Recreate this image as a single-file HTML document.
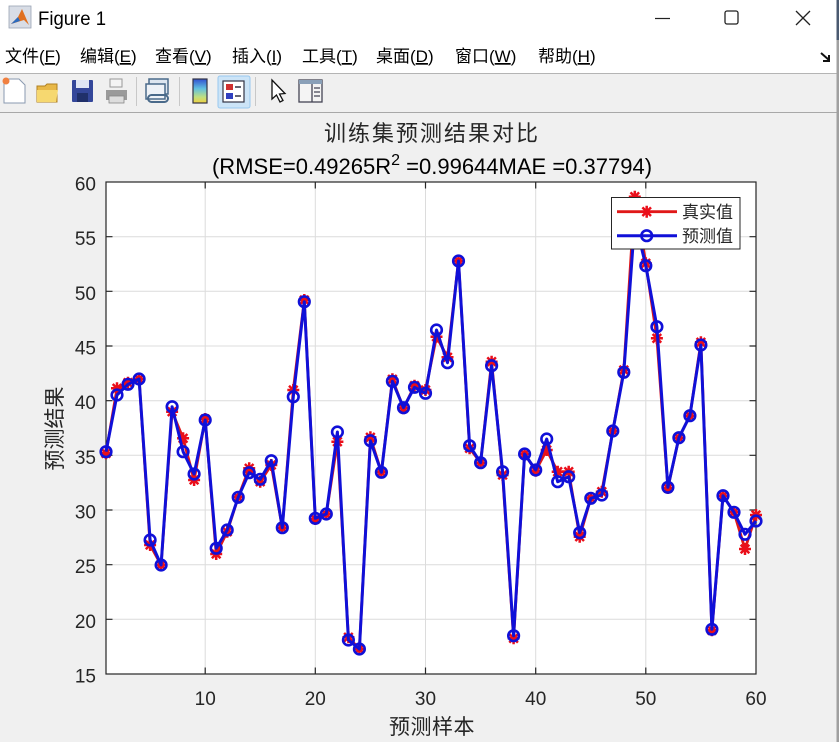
<!DOCTYPE html>
<html><head><meta charset="utf-8"><style>
html,body{margin:0;padding:0;background:#f0f0f0;}
svg{display:block;}
text{font-family:"Liberation Sans","Noto Sans CJK SC",sans-serif;}
.cjk{font-family:"Liberation Sans","Noto Sans CJK SC",sans-serif;}
</style></head><body>
<svg width="839" height="742" viewBox="0 0 839 742" xmlns="http://www.w3.org/2000/svg">
<defs>
  <g id="ast"><path d="M-6 0H6M0 -6V6M-4.3 -4.3L4.3 4.3M-4.3 4.3L4.3 -4.3" stroke="#ea0f1a" stroke-width="2.5" fill="none"/></g>
  <linearGradient id="cb" x1="0" y1="0" x2="0" y2="1">
    <stop offset="0" stop-color="#3050d0"/><stop offset="0.4" stop-color="#60c0e0"/><stop offset="0.75" stop-color="#c0e080"/><stop offset="1" stop-color="#f0d040"/>
  </linearGradient>
</defs>
<rect x="0" y="0" width="839" height="742" fill="#f0f0f0"/>
<rect x="0" y="0" width="839" height="73" fill="#ffffff"/>
<line x1="0" y1="73.5" x2="839" y2="73.5" stroke="#b4b4b4" stroke-width="1"/>
<line x1="0" y1="112.5" x2="839" y2="112.5" stroke="#a8a8a8" stroke-width="1"/>
<rect x="836.5" y="0" width="2.5" height="742" fill="#a0a0a0"/>
<rect x="836.5" y="0" width="2.5" height="40" fill="#4a5a70"/>

<g>
  <rect x="9" y="6" width="22" height="22" fill="#d8dde6" stroke="#9aa4b4" stroke-width="0.8"/>
  <path d="M11 24 L18 17 L22 9 L29 25 L24 20 Z" fill="#e07020"/>
  <path d="M11 24 L18 17 L20 21 Z" fill="#2a6bc0"/>
</g>
<text x="38" y="25" font-size="19" fill="#000" textLength="68" lengthAdjust="spacingAndGlyphs">Figure 1</text>
<line x1="655" y1="18.5" x2="670" y2="18.5" stroke="#222" stroke-width="1.2"/>
<rect x="725" y="11" width="13" height="13" rx="2" fill="none" stroke="#222" stroke-width="1.3"/>
<path d="M796 11 L810 25 M810 11 L796 25" stroke="#222" stroke-width="1.3"/>

<g font-size="17" fill="#000" class="cjk">
  <text x="5" y="62">文件(<tspan text-decoration="underline">F</tspan>)</text>
  <text x="80" y="62">编辑(<tspan text-decoration="underline">E</tspan>)</text>
  <text x="155" y="62">查看(<tspan text-decoration="underline">V</tspan>)</text>
  <text x="232" y="62">插入(<tspan text-decoration="underline">I</tspan>)</text>
  <text x="302" y="62">工具(<tspan text-decoration="underline">T</tspan>)</text>
  <text x="376" y="62">桌面(<tspan text-decoration="underline">D</tspan>)</text>
  <text x="455" y="62">窗口(<tspan text-decoration="underline">W</tspan>)</text>
  <text x="538" y="62">帮助(<tspan text-decoration="underline">H</tspan>)</text>
</g>
<path d="M821 53 L829 60 M829 55 V61 H823" stroke="#111" stroke-width="2" fill="none"/>

<g>
  <path d="M4 79 H19 L25 85 V103 H4 Z" fill="#fff" stroke="#8a9ab0" stroke-width="1"/>
  <circle cx="6" cy="81" r="3.5" fill="#f08040"/>
  <path d="M37 86 H45 L47 84 H57 V102 H37 Z" fill="#e8b848" stroke="#b08020" stroke-width="1"/>
  <path d="M37 90 H58 L56 102 H37 Z" fill="#f6d870"/>
  <rect x="72" y="80" width="21" height="22" fill="#34479a" rx="1"/>
  <rect x="76" y="80" width="13" height="8" fill="#dfe6f4"/>
  <rect x="77" y="93" width="11" height="9" fill="#20306a"/>
  <rect x="110" y="79" width="12" height="8" fill="#f4f4f4" stroke="#999" stroke-width="1"/>
  <path d="M106 90 H127 V100 H106 Z" fill="#9a9a9a"/>
  <rect x="109" y="96" width="15" height="7" fill="#ddd" stroke="#888" stroke-width="0.8"/>
  <line x1="136.5" y1="77" x2="136.5" y2="106" stroke="#c8c8c8"/>
  <rect x="149" y="79" width="19" height="15" fill="#dde6f0" stroke="#4a6a8a" stroke-width="1.5"/>
  <rect x="146" y="84" width="19" height="15" fill="#eef2f7" stroke="#4a6a8a" stroke-width="1.5"/>
  <rect x="148" y="95" width="20" height="7" rx="3.5" fill="none" stroke="#4a6a8a" stroke-width="2"/>
  <line x1="179.5" y1="77" x2="179.5" y2="106" stroke="#c8c8c8"/>
  <rect x="193" y="79" width="14" height="24" fill="url(#cb)" stroke="#334" stroke-width="1.2"/>
  <rect x="218" y="76" width="32" height="32" rx="2" fill="#cce4f7" stroke="#99c9ef" stroke-width="1"/>
  <rect x="223" y="81" width="21" height="21" fill="#fff" stroke="#334" stroke-width="1.2"/>
  <rect x="226" y="84" width="7" height="6" fill="#d03030"/>
  <rect x="226" y="93" width="7" height="6" fill="#3040c0"/>
  <line x1="235" y1="87" x2="241" y2="87" stroke="#334" stroke-width="1.5"/>
  <line x1="235" y1="96" x2="241" y2="96" stroke="#334" stroke-width="1.5"/>
  <line x1="255.5" y1="77" x2="255.5" y2="106" stroke="#c8c8c8"/>
  <path d="M272 80 L272 99 L276.5 95 L280 102 L283 100.5 L279.5 94 L285 93.5 Z" fill="#fff" stroke="#111" stroke-width="1.3"/>
  <rect x="299" y="80" width="23" height="22" fill="#f4f4f4" stroke="#445" stroke-width="1.3"/>
  <rect x="299" y="80" width="23" height="4" fill="#8aa0b8"/>
  <line x1="312" y1="84" x2="312" y2="102" stroke="#445" stroke-width="1.3"/>
  <path d="M314 88 H320 M314 92 H320 M314 96 H320" stroke="#445" stroke-width="1.3"/>
</g>

<rect x="106" y="182" width="650" height="492" fill="#ffffff"/>
<g stroke="#dcdcdc" stroke-width="1">
  <line x1="205.2" y1="182" x2="205.2" y2="674"/>
  <line x1="315.3" y1="182" x2="315.3" y2="674"/>
  <line x1="425.5" y1="182" x2="425.5" y2="674"/>
  <line x1="535.7" y1="182" x2="535.7" y2="674"/>
  <line x1="645.8" y1="182" x2="645.8" y2="674"/>
  <line x1="106" y1="236.7" x2="756" y2="236.7"/>
  <line x1="106" y1="291.3" x2="756" y2="291.3"/>
  <line x1="106" y1="346.0" x2="756" y2="346.0"/>
  <line x1="106" y1="400.7" x2="756" y2="400.7"/>
  <line x1="106" y1="455.3" x2="756" y2="455.3"/>
  <line x1="106" y1="510.0" x2="756" y2="510.0"/>
  <line x1="106" y1="564.7" x2="756" y2="564.7"/>
  <line x1="106" y1="619.3" x2="756" y2="619.3"/>
</g>
<g stroke="#262626" stroke-width="1.2" fill="none">
  <rect x="106" y="182" width="650" height="492"/>
  <path d="M205.2 674v-6.5M315.3 674v-6.5M425.5 674v-6.5M535.7 674v-6.5M645.8 674v-6.5
           M205.2 182v6.5M315.3 182v6.5M425.5 182v6.5M535.7 182v6.5M645.8 182v6.5
           M106 236.7h6.5M106 291.3h6.5M106 346h6.5M106 400.7h6.5M106 455.3h6.5M106 510h6.5M106 564.7h6.5M106 619.3h6.5
           M756 236.7h-6.5M756 291.3h-6.5M756 346h-6.5M756 400.7h-6.5M756 455.3h-6.5M756 510h-6.5M756 564.7h-6.5M756 619.3h-6.5"/>
</g>
<g font-size="19" fill="#262626" text-anchor="end">
  <text x="96" y="190.5">60</text>
  <text x="96" y="245.2">55</text>
  <text x="96" y="299.8">50</text>
  <text x="96" y="354.5">45</text>
  <text x="96" y="409.2">40</text>
  <text x="96" y="463.8">35</text>
  <text x="96" y="518.5">30</text>
  <text x="96" y="573.2">25</text>
  <text x="96" y="627.8">20</text>
  <text x="96" y="682.5">15</text>
</g>
<g font-size="19" fill="#262626" text-anchor="middle">
  <text x="205.2" y="705">10</text>
  <text x="315.3" y="705">20</text>
  <text x="425.5" y="705">30</text>
  <text x="535.7" y="705">40</text>
  <text x="645.8" y="705">50</text>
  <text x="756" y="705">60</text>
</g>
<text class="cjk" x="432" y="734" font-size="21" fill="#262626" text-anchor="middle" letter-spacing="0.5">预测样本</text>
<text class="cjk" transform="translate(62,428.5) rotate(-90)" x="0" y="0" font-size="21" fill="#262626" text-anchor="middle">预测结果</text>
<text class="cjk" x="432" y="141" font-size="22" fill="#262626" text-anchor="middle" letter-spacing="2">训练集预测结果对比</text>
<text x="432" y="174" font-size="22" fill="#000" text-anchor="middle">(RMSE=0.49265R<tspan font-size="16" dy="-9">2</tspan><tspan dy="9"> =0.99644MAE =0.37794)</tspan></text>

<polyline fill="none" stroke="#e01818" stroke-width="2.8" stroke-linejoin="round" points="106.0,453.3 117.0,388.3 128.0,382.7 139.1,379 150.1,545 161.1,565 172.1,411.7 183.1,438.3 194.1,480 205.2,419 216.2,554 227.2,531.7 238.2,497.3 249.2,468.3 260.2,481.7 271.3,465 282.3,527.7 293.3,390 304.3,300 315.3,519 326.3,514 337.4,441.7 348.4,637.3 359.4,649 370.4,437.3 381.4,472.3 392.4,379.3 403.5,408.3 414.5,385.7 425.5,390 436.5,336.7 447.5,357.3 458.5,261 469.6,448.3 480.6,462.7 491.6,361.7 502.6,475 513.6,638.3 524.6,454 535.7,470.7 546.7,450 557.7,471.7 568.7,471.7 579.7,536.7 590.8,498.3 601.8,491.7 612.8,431 623.8,370 634.8,196.7 645.8,263.3 656.9,338.3 667.9,488 678.9,437.7 689.9,415.7 700.9,342.3 711.9,630.3 723.0,495.7 734.0,512.3 745.0,549 756.0,515"/>
<g>
<use href="#ast" x="106.0" y="453.3"/><use href="#ast" x="117.0" y="388.3"/><use href="#ast" x="128.0" y="382.7"/><use href="#ast" x="139.1" y="379"/><use href="#ast" x="150.1" y="545"/><use href="#ast" x="161.1" y="565"/><use href="#ast" x="172.1" y="411.7"/><use href="#ast" x="183.1" y="438.3"/><use href="#ast" x="194.1" y="480"/><use href="#ast" x="205.2" y="419"/>
<use href="#ast" x="216.2" y="554"/><use href="#ast" x="227.2" y="531.7"/><use href="#ast" x="238.2" y="497.3"/><use href="#ast" x="249.2" y="468.3"/><use href="#ast" x="260.2" y="481.7"/><use href="#ast" x="271.3" y="465"/><use href="#ast" x="282.3" y="527.7"/><use href="#ast" x="293.3" y="390"/><use href="#ast" x="304.3" y="300"/><use href="#ast" x="315.3" y="519"/>
<use href="#ast" x="326.3" y="514"/><use href="#ast" x="337.4" y="441.7"/><use href="#ast" x="348.4" y="637.3"/><use href="#ast" x="359.4" y="649"/><use href="#ast" x="370.4" y="437.3"/><use href="#ast" x="381.4" y="472.3"/><use href="#ast" x="392.4" y="379.3"/><use href="#ast" x="403.5" y="408.3"/><use href="#ast" x="414.5" y="385.7"/><use href="#ast" x="425.5" y="390"/>
<use href="#ast" x="436.5" y="336.7"/><use href="#ast" x="447.5" y="357.3"/><use href="#ast" x="458.5" y="261"/><use href="#ast" x="469.6" y="448.3"/><use href="#ast" x="480.6" y="462.7"/><use href="#ast" x="491.6" y="361.7"/><use href="#ast" x="502.6" y="475"/><use href="#ast" x="513.6" y="638.3"/><use href="#ast" x="524.6" y="454"/><use href="#ast" x="535.7" y="470.7"/>
<use href="#ast" x="546.7" y="450"/><use href="#ast" x="557.7" y="471.7"/><use href="#ast" x="568.7" y="471.7"/><use href="#ast" x="579.7" y="536.7"/><use href="#ast" x="590.8" y="498.3"/><use href="#ast" x="601.8" y="491.7"/><use href="#ast" x="612.8" y="431"/><use href="#ast" x="623.8" y="370"/><use href="#ast" x="634.8" y="196.7"/><use href="#ast" x="645.8" y="263.3"/>
<use href="#ast" x="656.9" y="338.3"/><use href="#ast" x="667.9" y="488"/><use href="#ast" x="678.9" y="437.7"/><use href="#ast" x="689.9" y="415.7"/><use href="#ast" x="700.9" y="342.3"/><use href="#ast" x="711.9" y="630.3"/><use href="#ast" x="723.0" y="495.7"/><use href="#ast" x="734.0" y="512.3"/><use href="#ast" x="745.0" y="549"/><use href="#ast" x="756.0" y="515"/>
</g>

<polyline fill="none" stroke="#1010d8" stroke-width="3" stroke-linejoin="round" points="106.0,451.7 117.0,395 128.0,384.3 139.1,379 150.1,540 161.1,565 172.1,406.7 183.1,451.7 194.1,474 205.2,420 216.2,548.3 227.2,530 238.2,497.3 249.2,472.7 260.2,479.3 271.3,460.7 282.3,527.7 293.3,396.7 304.3,301.7 315.3,518.3 326.3,514 337.4,432 348.4,640 359.4,649 370.4,440.7 381.4,472.3 392.4,381.3 403.5,407.7 414.5,387.3 425.5,393.3 436.5,330 447.5,362.7 458.5,261 469.6,445.7 480.6,462.7 491.6,365.7 502.6,471.7 513.6,635.7 524.6,454 535.7,470 546.7,439 557.7,481.7 568.7,476.7 579.7,532.7 590.8,498.3 601.8,495 612.8,431 623.8,372.3 634.8,220 645.8,265.7 656.9,326.7 667.9,487.3 678.9,437.7 689.9,415.7 700.9,345 711.9,629.3 723.0,495.7 734.0,512.3 745.0,534.3 756.0,521"/>
<g fill="none" stroke="#1010d8" stroke-width="2.6">
<circle cx="106.0" cy="451.7" r="5.3"/><circle cx="117.0" cy="395" r="5.3"/><circle cx="128.0" cy="384.3" r="5.3"/><circle cx="139.1" cy="379" r="5.3"/><circle cx="150.1" cy="540" r="5.3"/><circle cx="161.1" cy="565" r="5.3"/><circle cx="172.1" cy="406.7" r="5.3"/><circle cx="183.1" cy="451.7" r="5.3"/><circle cx="194.1" cy="474" r="5.3"/><circle cx="205.2" cy="420" r="5.3"/>
<circle cx="216.2" cy="548.3" r="5.3"/><circle cx="227.2" cy="530" r="5.3"/><circle cx="238.2" cy="497.3" r="5.3"/><circle cx="249.2" cy="472.7" r="5.3"/><circle cx="260.2" cy="479.3" r="5.3"/><circle cx="271.3" cy="460.7" r="5.3"/><circle cx="282.3" cy="527.7" r="5.3"/><circle cx="293.3" cy="396.7" r="5.3"/><circle cx="304.3" cy="301.7" r="5.3"/><circle cx="315.3" cy="518.3" r="5.3"/>
<circle cx="326.3" cy="514" r="5.3"/><circle cx="337.4" cy="432" r="5.3"/><circle cx="348.4" cy="640" r="5.3"/><circle cx="359.4" cy="649" r="5.3"/><circle cx="370.4" cy="440.7" r="5.3"/><circle cx="381.4" cy="472.3" r="5.3"/><circle cx="392.4" cy="381.3" r="5.3"/><circle cx="403.5" cy="407.7" r="5.3"/><circle cx="414.5" cy="387.3" r="5.3"/><circle cx="425.5" cy="393.3" r="5.3"/>
<circle cx="436.5" cy="330" r="5.3"/><circle cx="447.5" cy="362.7" r="5.3"/><circle cx="458.5" cy="261" r="5.3"/><circle cx="469.6" cy="445.7" r="5.3"/><circle cx="480.6" cy="462.7" r="5.3"/><circle cx="491.6" cy="365.7" r="5.3"/><circle cx="502.6" cy="471.7" r="5.3"/><circle cx="513.6" cy="635.7" r="5.3"/><circle cx="524.6" cy="454" r="5.3"/><circle cx="535.7" cy="470" r="5.3"/>
<circle cx="546.7" cy="439" r="5.3"/><circle cx="557.7" cy="481.7" r="5.3"/><circle cx="568.7" cy="476.7" r="5.3"/><circle cx="579.7" cy="532.7" r="5.3"/><circle cx="590.8" cy="498.3" r="5.3"/><circle cx="601.8" cy="495" r="5.3"/><circle cx="612.8" cy="431" r="5.3"/><circle cx="623.8" cy="372.3" r="5.3"/><circle cx="634.8" cy="220" r="5.3"/><circle cx="645.8" cy="265.7" r="5.3"/>
<circle cx="656.9" cy="326.7" r="5.3"/><circle cx="667.9" cy="487.3" r="5.3"/><circle cx="678.9" cy="437.7" r="5.3"/><circle cx="689.9" cy="415.7" r="5.3"/><circle cx="700.9" cy="345" r="5.3"/><circle cx="711.9" cy="629.3" r="5.3"/><circle cx="723.0" cy="495.7" r="5.3"/><circle cx="734.0" cy="512.3" r="5.3"/><circle cx="745.0" cy="534.3" r="5.3"/><circle cx="756.0" cy="521" r="5.3"/>
</g>

<rect x="611.5" y="197.5" width="128.5" height="51.5" fill="#ffffff" stroke="#262626" stroke-width="1"/>
<line x1="617" y1="211.7" x2="677" y2="211.7" stroke="#e01818" stroke-width="2.8"/>
<use href="#ast" x="646.7" y="211.7"/>
<line x1="617" y1="235.7" x2="677" y2="235.7" stroke="#1010d8" stroke-width="3"/>
<circle cx="646.7" cy="235.7" r="5.3" fill="none" stroke="#1010d8" stroke-width="2.6"/>
<g class="cjk" font-size="17" fill="#262626">
  <text x="682" y="218">真实值</text>
  <text x="682" y="242">预测值</text>
</g>
</svg>
</body></html>
